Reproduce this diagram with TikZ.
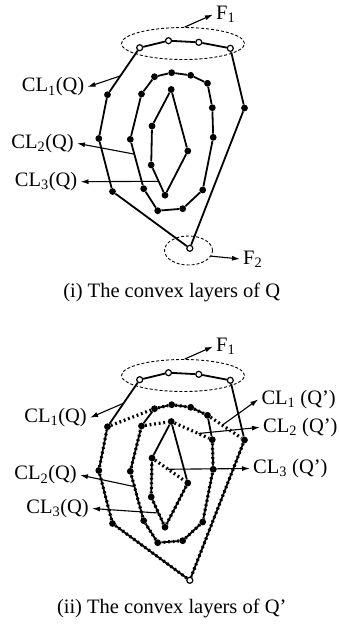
\documentclass[tikz,border=0pt]{standalone}
\usepackage{fontspec}
\setmainfont{Liberation Serif}
\usetikzlibrary{arrows.meta, calc, shapes.geometric}

% the same point set is used in both panels
\newcommand{\layerpoints}{%
    % CL_1
    \node[openpt]  (o1) at (139.7,47.7)  {};
    \node[openpt]  (o2) at (168.5,40.7)  {};
    \node[openpt]  (o3) at (198.8,42.3)  {};
    \node[openpt]  (o4) at (230.3,48.3)  {};
    \node[solidpt] (p5) at (244.5,108)   {};
    \node[openpt]  (o6) at (189.8,248.3) {};
    \node[solidpt] (p7) at (112.5,191.5) {};
    \node[solidpt] (p8) at (98.8,138.5)  {};
    \node[solidpt] (p9) at (107.5,94.7)  {};
    % CL_2
    \node[solidpt] (q1)  at (154.5,76.7)  {};
    \node[solidpt] (q2)  at (171.7,72.7)  {};
    \node[solidpt] (q3)  at (190.7,75.3)  {};
    \node[solidpt] (q4)  at (207.5,83.3)  {};
    \node[solidpt] (q5)  at (212.3,107.7) {};
    \node[solidpt] (q6)  at (213.2,137.3) {};
    \node[solidpt] (q7)  at (202.7,190)   {};
    \node[solidpt] (q8)  at (182.7,208.7) {};
    \node[solidpt] (q9)  at (157.7,210.7) {};
    \node[solidpt] (q10) at (143.7,188.7) {};
    \node[solidpt] (q11) at (130.3,139.3) {};
    \node[solidpt] (q12) at (141.5,94)    {};
    % CL_3
    \node[solidpt] (r1) at (171.2,89.5)  {};
    \node[solidpt] (r2) at (187.8,151)   {};
    \node[solidpt] (r3) at (165,195.2)   {};
    \node[solidpt] (r4) at (151.2,165)   {};
    \node[solidpt] (r5) at (152,126)     {};
    \draw[hull] (o1) -- (o2) -- (o3) -- (o4) -- (p5) -- (o6) -- (p7) -- (p8) -- (p9) -- (o1);
    \draw[hull] (q1) -- (q2) -- (q3) -- (q4) -- (q5) -- (q6) -- (q7) -- (q8) -- (q9) -- (q10) -- (q11) -- (q12) -- (q1);
    \draw[hull] (r1) -- (r2) -- (r3) -- (r4) -- (r5) -- (r1);
    % F_1
    \node[ring, minimum width=123pt, minimum height=32pt] (f1ring) at (183,43.5) {};
    \node[lbl, anchor=west] (f1) at (213,14.5) {F\textsubscript{1}};
    \draw[pointer] (f1ring.84) -- (f1.west);
}

\begin{document}
\begin{tikzpicture}[
        x = 1pt, y = -1pt,
        solidpt/.style = {circle, fill=black, inner sep=0pt, minimum size=6.8pt},
        openpt/.style  = {circle, draw=black, fill=white, line width=1.2pt,
                          inner sep=0pt, minimum size=6pt},
        hull/.style    = {line width=1.8pt, line join=round},
        qhull/.style   = {line width=3.2pt, dash pattern=on 1.8pt off 2.8pt},
        ring/.style    = {ellipse, draw, line width=0.9pt,
                          dash pattern=on 3pt off 2pt, inner sep=0pt},
        lbl/.style     = {font=\fontsize{20.5}{24}\selectfont, inner sep=3pt},
        pointer/.style = {-{Latex[length=8pt, width=5pt]}, line width=1.1pt}
    ]
    \useasboundingbox (0,0) rectangle (338,625);

    % (i) layers of Q
    \begin{scope}[name prefix=top-]
        \layerpoints

        \node[ring, minimum width=48pt, minimum height=29pt] (f2ring) at (188.5,250.5) {};
        \node[lbl, anchor=west] (f2) at (240,259) {F\textsubscript{2}};
        \draw[pointer] (f2ring.-14) -- (f2.west);

        \node[lbl, anchor=east] (cl1) at (87.5,87)    {CL\textsubscript{1}(Q)};
        \node[lbl, anchor=east] (cl2) at (77,143.3)   {CL\textsubscript{2}(Q)};
        \node[lbl, anchor=east] (cl3) at (80.5,181.7) {CL\textsubscript{3}(Q)};
        \coordinate (s1) at ($(o1)!0.6!(p9)$);
        \coordinate (s2) at ($(q11)!0.3!(q10)$);
        \coordinate (s3) at ($(r4)!0.54!(r3)$);
        \draw[pointer] (s1) -- (cl1.east);
        \draw[pointer] (s2) -- (cl2.east);
        \draw[pointer] (s3) -- (cl3.east);

        \node[lbl] (cap) at (171.7,292) {(i) The convex layers of Q};
    \end{scope}

    % (ii) layers of Q'
    \begin{scope}[name prefix=bot-, shift={(0,332)}]
        \layerpoints

        % CL_1(Q'), CL_2(Q'), CL_3(Q')
        \draw[qhull] (p9) -- (q1) -- (q2) -- (q3) -- (q4) -- (p5) -- (o6) -- (p7) -- (p8) -- (p9);
        \draw[qhull] (q12) -- (r1) -- (q5) -- (q6) -- (q7) -- (q8) -- (q9) -- (q10) -- (q11) -- (q12);
        \draw[qhull] (r5) -- (r2) -- (r3) -- (r4) -- (r5);

        \node[lbl, anchor=east] (cl1) at (90,85.7)    {CL\textsubscript{1}(Q)};
        \node[lbl, anchor=east] (cl2) at (80,143)     {CL\textsubscript{2}(Q)};
        \node[lbl, anchor=east] (cl3) at (92,176.5)   {CL\textsubscript{3}(Q)};
        \node[lbl, anchor=west] (qcl1) at (258.3,67.3) {CL\textsubscript{1} (Q’)};
        \node[lbl, anchor=west] (qcl2) at (260,95.3)   {CL\textsubscript{2} (Q’)};
        \node[lbl, anchor=west] (qcl3) at (250,136.5)  {CL\textsubscript{3} (Q’)};
        \coordinate (s1) at ($(o1)!0.5!(p9)$);
        \coordinate (s2) at ($(q11)!0.31!(q10)$);
        \coordinate (s3) at ($(r4)!0.53!(r3)$);
        \coordinate (t1) at ($(q4)!0.4!(p5)$);
        \coordinate (t2) at ($(r1)!0.66!(q5)$);
        \coordinate (t3) at ($(r5)!0.45!(r2)$);
        \draw[pointer] (s1) -- (cl1.east);
        \draw[pointer] (s2) -- (cl2.east);
        \draw[pointer] (s3) -- (cl3.east);
        \draw[pointer] (t1) -- (qcl1.west);
        \draw[pointer] (t2) -- (qcl2.west);
        \draw[pointer] (t3) -- (qcl3.west);

        \node[lbl] (cap) at (171.7,276) {(ii) The convex layers of Q’};
    \end{scope}
\end{tikzpicture}
\end{document}
